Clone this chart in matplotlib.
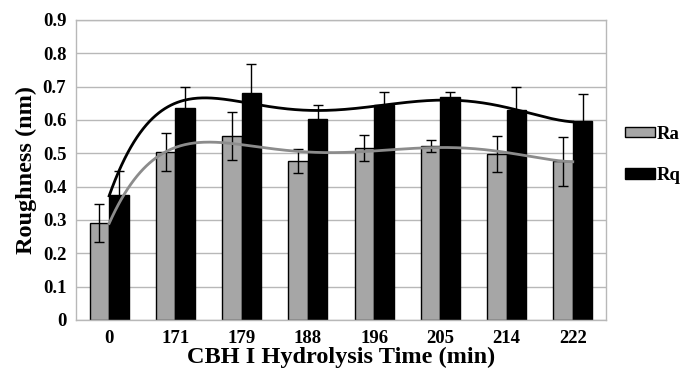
import numpy as np
import matplotlib
matplotlib.use("Agg")
import matplotlib.pyplot as plt

categories = ["0", "171", "179", "188", "196", "205", "214", "222"]
ra = [0.292, 0.505, 0.553, 0.477, 0.516, 0.523, 0.497, 0.476]
ra_err = [0.057, 0.057, 0.072, 0.037, 0.040, 0.018, 0.054, 0.074]
rq = [0.375, 0.637, 0.682, 0.604, 0.645, 0.670, 0.630, 0.596]
rq_err = [0.072, 0.063, 0.085, 0.040, 0.038, 0.013, 0.068, 0.082]

plt.rcParams['font.family'] = ['Liberation Serif', 'DejaVu Serif']
plt.rcParams['font.weight'] = 'bold'

fig = plt.figure(figsize=(6.8, 3.69), dpi=100)
ax = fig.add_axes([0.1118, 0.1328, 0.891 - 0.1118, 0.9458 - 0.1328])

x = np.arange(len(categories))
w = 0.295
ax.bar(x - w / 2, ra, w, color='#a6a6a6', edgecolor='black', linewidth=1.0,
       label='Ra', zorder=2)
ax.bar(x + w / 2, rq, w, color='black', edgecolor='black', linewidth=1.0,
       label='Rq', zorder=2)
ax.errorbar(x - w / 2, ra, yerr=ra_err, fmt='none', ecolor='black',
            elinewidth=1.0, capsize=3.5, capthick=1.0, zorder=3)
ax.errorbar(x + w / 2, rq, yerr=rq_err, fmt='none', ecolor='black',
            elinewidth=1.0, capsize=3.5, capthick=1.0, zorder=3)

# polynomial trend lines (fitted from the data)
xf = np.linspace(0, len(categories) - 1, 300)
pa = np.polyfit(x, ra, 5)
pq = np.polyfit(x, rq, 5)
ax.plot(xf, np.polyval(pa, xf), color='#8c8c8c', linewidth=2.0, zorder=4)
ax.plot(xf, np.polyval(pq, xf), color='black', linewidth=2.0, zorder=4)

ax.set_xlim(-0.5, len(categories) - 0.5)
ax.set_ylim(0, 0.9)
ax.set_yticks(np.arange(0, 0.91, 0.1))
ax.set_yticklabels(["0"] + [f"{v:.1f}" for v in np.arange(0.1, 0.91, 0.1)])
ax.set_xticks(x)
ax.set_xticklabels(categories)
ax.tick_params(axis='both', length=0, labelsize=13.5, pad=7)
for lab in ax.get_xticklabels() + ax.get_yticklabels():
    lab.set_fontweight('bold')
ax.yaxis.grid(True, color='#b8b8b8', linewidth=1.0, zorder=0)
ax.set_axisbelow(True)
for s in ax.spines.values():
    s.set_color('#b8b8b8')
    s.set_linewidth(1.0)

ax.set_xlabel("CBH I Hydrolysis Time (min)", fontsize=17.5, fontweight='bold', labelpad=0)
ax.set_ylabel("Roughness (nm)", fontsize=17.5, fontweight='bold', labelpad=4)

leg = fig.legend(loc='center left', bbox_to_anchor=(0.905, 0.58), frameon=False,
                 fontsize=13.5, handlelength=1.6, handleheight=0.45,
                 handletextpad=0.1, labelspacing=1.3, borderpad=0)
for t in leg.get_texts():
    t.set_fontweight('bold')

fig.savefig("out.png", dpi=100)
